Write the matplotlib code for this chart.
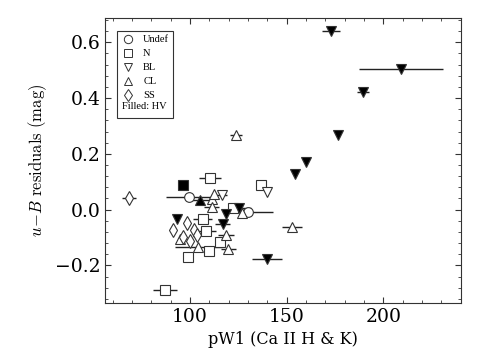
import matplotlib
matplotlib.use("Agg")
import matplotlib.pyplot as plt
from matplotlib.ticker import AutoMinorLocator

plt.rcParams['font.family'] = 'DejaVu Serif'
plt.rcParams['mathtext.fontset'] = 'cm'

# Undef (open circles)
undef_x = [99.5, 130.2]
undef_y = [0.045, -0.010]
undef_xerr = [12.0, 13.0]

# N (open squares)
n_x = [110.3, 136.7, 122.4, 106.6, 108.3, 115.5, 110.0, 99.1, 87.1]
n_y = [0.113, 0.087, 0.004, -0.032, -0.077, -0.116, -0.148, -0.170, -0.289]
n_xerr = [5.6, 0.0, 0.0, 5.0, 5.0, 0.0, 0.0, 0.0, 6.0]

# BL (open down triangles)
bl_x = [140.0, 116.4]
bl_y = [0.063, 0.051]
bl_xerr = [0.0, 3.0]

# CL (open up triangles)
cl_x = [152.6, 111.2, 111.2, 127.0, 118.6, 119.8, 104.3, 94.8, 123.8, 112.5]
cl_y = [-0.062, 0.039, 0.009, -0.011, -0.092, -0.143, -0.134, -0.104, 0.266, 0.055]
cl_xerr = [5.2, 0.0, 4.0, 0.0, 4.0, 4.0, 12.0, 0.0, 3.0, 0.0]

# SS (open diamonds)
ss_x = [68.5, 98.3, 91.1, 102.1, 103.5, 100.0, 96.5]
ss_y = [0.041, -0.048, -0.072, -0.072, -0.092, -0.112, -0.100]
ss_xerr = [3.5, 0.0, 0.0, 0.0, 0.0, 0.0, 0.0]

# HV (filled) members
hv_n_x = [96.2]
hv_n_y = [0.087]
hv_n_xerr = [0.0]

hv_bl_x = [172.9, 209.3, 189.5, 176.5, 160.0, 154.3, 139.7, 125.5, 118.6, 116.9, 93.1]
hv_bl_y = [0.641, 0.506, 0.423, 0.266, 0.170, 0.126, -0.178, 0.004, -0.017, -0.053, -0.032]
hv_bl_xerr = [4.7, 21.8, 3.0, 0.0, 0.0, 0.0, 7.8, 6.0, 0.0, 4.0, 0.0]

hv_cl_x = [105.2]
hv_cl_y = [0.033]
hv_cl_xerr = [6.0]

groups = [
    (undef_x, undef_y, undef_xerr, 'o', 'white'),
    (n_x, n_y, n_xerr, 's', 'white'),
    (bl_x, bl_y, bl_xerr, 'v', 'white'),
    (cl_x, cl_y, cl_xerr, '^', 'white'),
    (ss_x, ss_y, ss_xerr, 'd', 'white'),
    (hv_n_x, hv_n_y, hv_n_xerr, 's', 'black'),
    (hv_bl_x, hv_bl_y, hv_bl_xerr, 'v', 'black'),
    (hv_cl_x, hv_cl_y, hv_cl_xerr, '^', 'black'),
]

fig = plt.figure(figsize=(4.85, 3.63), dpi=100)
ax = fig.add_axes([0.2165, 0.1653, 0.733, 0.785])

for x, y, xerr, mk, fc in groups:
    ax.errorbar(x, y, xerr=xerr, fmt='none', ecolor='#222222',
                elinewidth=1.0, capsize=0, zorder=1)
    ax.plot(x, y, linestyle='none', marker=mk, markersize=7,
            markerfacecolor=fc, markeredgecolor='#333333',
            markeredgewidth=0.8, zorder=2)

ax.set_xlim(56, 240)
ax.set_ylim(-0.335, 0.687)
ax.set_xticks([100, 150, 200])
ax.set_yticks([-0.2, 0.0, 0.2, 0.4, 0.6])
ax.xaxis.set_minor_locator(AutoMinorLocator(5))
ax.yaxis.set_minor_locator(AutoMinorLocator(5))
ax.tick_params(which='both', direction='in', top=True, right=True,
               labelsize=13.5, color='#333333')
ax.tick_params(which='major', length=4.5, width=0.8)
ax.tick_params(which='minor', length=2.5, width=0.6)
for sp in ax.spines.values():
    sp.set_color('#333333')

ax.set_xlabel('pW1 (Ca II H & K)', fontsize=11.5)
ax.set_ylabel(r'$u\!-\!B$ $\mathrm{residuals\ (mag)}$', fontsize=12)

handles = []
for mk, lab in [('o', 'Undef'), ('s', 'N'), ('v', 'BL'), ('^', 'CL'), ('d', 'SS')]:
    h, = ax.plot([], [], linestyle='none', marker=mk, markersize=6,
                 markerfacecolor='white', markeredgecolor='#333333',
                 markeredgewidth=0.7, label=lab)
    handles.append(h)
blank, = ax.plot([], [], linestyle='none', label=' ')
handles.append(blank)
leg = ax.legend(handles=handles, loc='upper left', bbox_to_anchor=(0.034, 0.955),
                borderaxespad=0, prop={'family': 'Liberation Serif', 'size': 7.5},
                frameon=True, fancybox=False, edgecolor='black',
                handlelength=1.2, handletextpad=0.9, labelspacing=0.45,
                borderpad=0.4, numpoints=1)
leg.get_frame().set_linewidth(0.8)
ax.text(0.047, 0.69, 'Filled: HV', transform=ax.transAxes, zorder=10,
        family='Liberation Serif', fontsize=7.5, va='center', ha='left')

fig.savefig('out.png', dpi=100)
